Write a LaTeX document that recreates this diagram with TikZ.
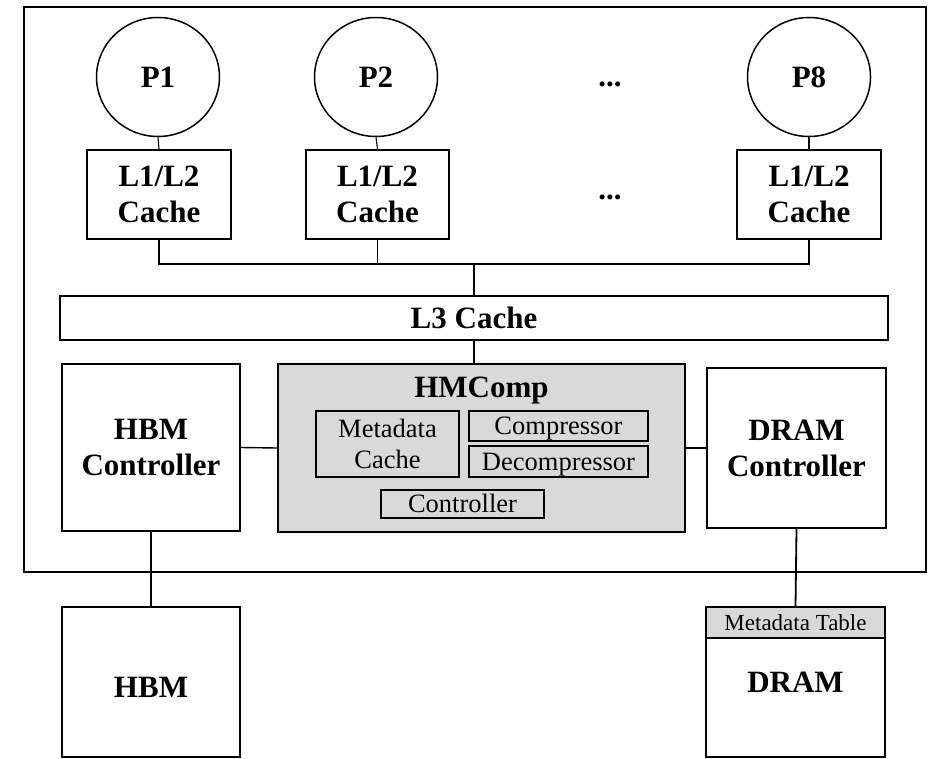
\documentclass[tikz,border=0pt]{standalone}
\usepackage{fontspec}
\setmainfont{Liberation Serif}
\usetikzlibrary{shapes.geometric}
\definecolor{boxgray}{HTML}{D9D9D9}
\tikzset{
  big/.style={font=\bfseries\fontsize{31}{36}\selectfont, align=center},
  small/.style={font=\fontsize{26.5}{31}\selectfont, align=center},
  capc/.style={text height=#1, text depth=0pt},
  blk/.style={draw, line width=1.8pt, rectangle, inner sep=0pt},
  inner/.style={draw, line width=1.2pt, rectangle, inner sep=0pt, small},
  proc/.style={draw, line width=1.5pt, ellipse, inner sep=0pt, minimum width=123pt, minimum height=119pt, big},
  wire/.style={line width=1.4pt},
}
\begin{document}
\begin{tikzpicture}[x=1pt,y=-1pt]
\useasboundingbox (0,0) rectangle (933,759);
% chip outline
\node[blk, line width=2pt, minimum width=902pt, minimum height=565pt] (chip) at (475,289.5) {};
% processors
\node[proc] (p1) at (158,77) {P1};
\node[proc] (p2) at (376,77) {P2};
\node[proc] (p8) at (809,77) {P8};
\node[big] (d1) at (610,84) {...};
\node[big] (d2) at (610,197) {...};
% L1/L2 caches
\node[blk, big, minimum width=144pt, minimum height=89pt] (c1) at (159,194.5) {L1/L2\\Cache};
\node[blk, big, minimum width=143pt, minimum height=89pt] (c2) at (377.5,194.5) {L1/L2\\Cache};
\node[blk, big, minimum width=144pt, minimum height=89pt] (c8) at (809,194.5) {L1/L2\\Cache};
\draw[wire, line width=1.1pt] (p1.south) -- (c1.north);
\draw[wire, line width=1.1pt] (p2.south) -- (c2.north);
\draw[wire, line width=1.1pt] (p8.south) -- (c8.north);
% L3
\node[blk, big, capc=20.5pt, minimum width=828pt, minimum height=44pt] (l3) at (474,318) {L3 Cache};
\coordinate (j) at (474,264);
\draw[wire] (c1.south) |- (j);
\draw[wire] (c2.south) |- (j);
\draw[wire] (c8.south) |- (j);
\draw[wire] (j) -- (l3.north);
% HMComp
\node[blk, fill=boxgray, minimum width=407pt, minimum height=168pt] (hm) at (481.5,448) {};
\node[big, capc=20.5pt] (hmt) at (481.5,387) {HMComp};
\node[inner, minimum width=143pt, minimum height=66pt] (mc) at (387.5,444) {Metadata\\Cache};
\node[inner, capc=17.5pt, minimum width=179pt, minimum height=30pt] (comp) at (558.5,426) {Compressor};
\node[inner, capc=17.5pt, minimum width=179pt, minimum height=31pt] (dec) at (558.5,461.5) {Decompressor};
\node[inner, capc=17.5pt, minimum width=163pt, minimum height=28pt] (ctl) at (462.5,504) {Controller};
\draw[wire] (l3.south) -- (l3.south |- hm.north);
% controllers
\node[blk, big, minimum width=178pt, minimum height=167pt] (hbmc) at (151,447.5) {HBM\\Controller};
\node[blk, big, minimum width=179pt, minimum height=160pt] (dramc) at (796.5,448) {DRAM\\Controller};
\draw[wire] (hbmc.east) -- (hm.west);
\draw[wire] (hm.east) -- (dramc.west);
% memories
\node[blk, minimum width=178pt, minimum height=150pt] (hbm) at (151,682) {};
\node[big, capc=20.5pt] (hbmt) at (151,687) {HBM};
\node[blk, minimum width=179pt, minimum height=150pt] (dram) at (795.5,682) {};
\node[blk, fill=boxgray, capc=15.2pt, minimum width=179pt, minimum height=31pt, font=\fontsize{23}{27}\selectfont] (mt) at (795.5,622.5) {Metadata Table};
\node[big, capc=20.5pt] (dramt) at (795.5,682) {DRAM};
\draw[wire, line width=1.8pt] (hbmc.south) -- (hbm.north);
\draw[wire, line width=1.8pt] (dramc.south) -- (mt.north);
\end{tikzpicture}
\end{document}
